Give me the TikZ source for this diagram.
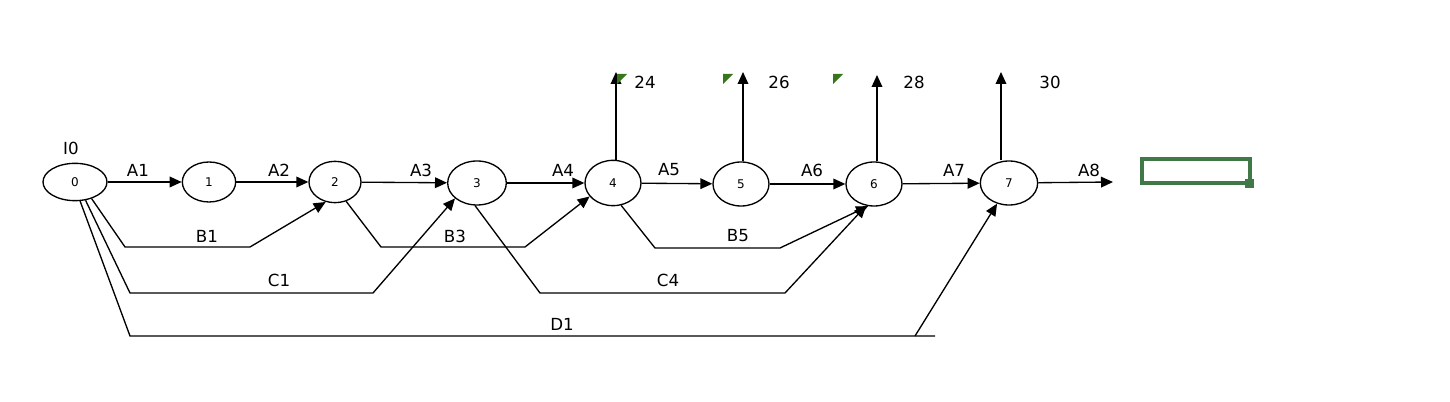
\documentclass[tikz,border=0pt]{standalone}
\usepackage{fontspec}
\setmainfont{DejaVu Sans}
\usetikzlibrary{shapes.geometric,arrows.meta}
\definecolor{gr}{RGB}{56,118,29}
\definecolor{bx}{RGB}{64,120,72}
\begin{document}
\begin{tikzpicture}[x=0.75pt,y=-0.75pt,
 st/.style={ellipse,draw,line width=1pt,inner sep=0pt,font=\fontsize{9}{10}\selectfont},
 ar/.style={-{Triangle[length=9pt,width=8pt]},line width=1pt},
 ln/.style={line width=1pt},
 lb/.style={font=\fontsize{12.5}{14}\selectfont}]
\fill[white] (0,0) rectangle (1450,402);
\node[st,minimum width=48pt,minimum height=28pt] (n0) at (75,182) {0};
\node[st,minimum width=40pt,minimum height=30pt] (n1) at (209,182) {1};
\node[st,minimum width=39pt,minimum height=31pt] (n2) at (335,182) {2};
\node[st,minimum width=44pt,minimum height=33pt] (n3) at (477,183) {3};
\node[st,minimum width=42pt,minimum height=34pt] (n4) at (613,183) {4};
\node[st,minimum width=42pt,minimum height=33pt] (n5) at (741,184) {5};
\node[st,minimum width=42pt,minimum height=33pt] (n6) at (874,184) {6};
\node[st,minimum width=43pt,minimum height=33pt] (n7) at (1009,183) {7};
\node[lb] (i0) at (71,148) {I0};
\draw[ar] (n0) -- (n1);
\draw[ar] (n1) -- (n2);
\draw[ar] (n2) -- (n3);
\draw[ar] (n3) -- (n4);
\draw[ar] (n4) -- (n5);
\draw[ar] (n5) -- (n6);
\draw[ar] (n6) -- (n7);
\coordinate (e8) at (1113,182);
\draw[ar] (n7) -- (e8);
\node[lb] (la1) at (138,170) {A1};
\node[lb] (la2) at (279,170) {A2};
\node[lb] (la3) at (421,170) {A3};
\node[lb] (la4) at (563,170) {A4};
\node[lb] (la5) at (669,170) {A5};
\node[lb] (la6) at (812,170) {A6};
\node[lb] (la7) at (954,170) {A7};
\node[lb] (la8) at (1089,170) {A8};
\draw[ar] (n0.-45) -- (125,247) -- (250,247) -- (n2.-115);
\node[lb] (lb1) at (207,236) {B1};
\draw[ar] (n2.-60) -- (381,247) -- (525,247) -- (n4.-150);
\node[lb] (lb3) at (455,236) {B3};
\draw[ar] (n0.-60) -- (130,293) -- (373,293) -- (n3.-145);
\node[lb] (lc1) at (279,280) {C1};
\draw[ar] (n3.-95) -- (540,293) -- (785,293) -- (n6.-110);
\node[lb] (lc4) at (668,280) {C4};
\draw[ar] (n4.-70) -- (655,248) -- (780,248) -- (n6.-105);
\node[lb] (lb5) at (738,236) {B5};
\draw[ln] (n0.-75) -- (130,336) -- (935,336);
\draw[ar] (915,336) -- (n7.-120);
\node[lb] (ld1) at (562,324) {D1};
\coordinate (u4) at (616,72); \coordinate (u5) at (743,72);
\coordinate (u6) at (877,75); \coordinate (u7) at (1001,72);
\draw[ar] (n4.north) ++(3,0) -- (u4);
\draw[ar] (n5.north) ++(2,0) -- (u5);
\draw[ar] (n6.north) ++(3,0) -- (u6);
\draw[ar] (n7.north) ++(-8,0) -- (u7);
\node[lb] (t24) at (645,82) {24};
\node[lb] (t26) at (779,82) {26};
\node[lb] (t28) at (914,82) {28};
\node[lb] (t30) at (1050,82) {30};
\fill[gr] (617,74) -- (627,74) -- (617,84) -- cycle;
\fill[gr] (723,74) -- (733,74) -- (723,84) -- cycle;
\fill[gr] (833,74) -- (843,74) -- (833,84) -- cycle;
\draw[bx,line width=2.6pt] (1142,159) rectangle (1250,183);
\fill[bx] (1245,179) rectangle (1254,188);
\end{tikzpicture}
\end{document}
